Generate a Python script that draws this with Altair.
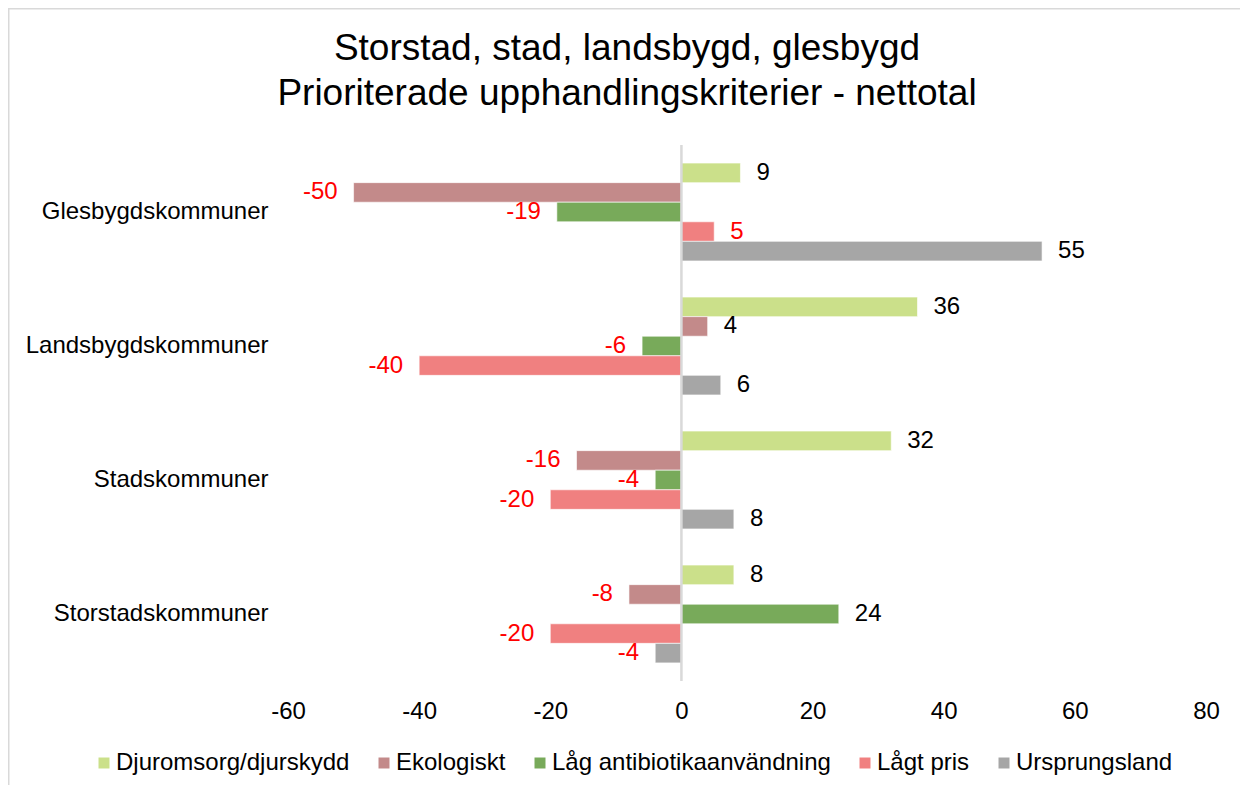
import altair as alt
import pandas as pd

categories = ["Glesbygdskommuner", "Landsbygdskommuner", "Stadskommuner", "Storstadskommuner"]
series = ["Djuromsorg/djurskydd", "Ekologiskt", "Låg antibiotikaanvändning", "Lågt pris", "Ursprungsland"]
djuromsorg = [9, 36, 32, 8]
ekologiskt = [-50, 4, -16, -8]
antibiotika = [-19, -6, -4, 24]
lagt_pris = [5, -40, -20, -20]
ursprungsland = [55, 6, 8, -4]
colors = ["#CBE08A", "#C38A8A", "#78AA5A", "#F08080", "#A6A6A6"]
x_ticks = [-60, -40, -20, 0, 20, 40, 60, 80]
title_line1 = "Storstad, stad, landsbygd, glesbygd"
title_line2 = "Prioriterade upphandlingskriterier - nettotal"

values_by_series = [djuromsorg, ekologiskt, antibiotika, lagt_pris, ursprungsland]
rows = []
for s, vals in zip(series, values_by_series):
    for c, v in zip(categories, vals):
        rows.append({"kategori": c, "serie": s, "varde": v})
df = pd.DataFrame(rows)

FONT = "Liberation Sans"
FS = 24
W, H = 918, 536

y_enc = alt.Y("kategori:N", sort=categories,
              scale=alt.Scale(paddingInner=0.27, paddingOuter=0.135),
              axis=alt.Axis(title=None, ticks=False, domain=False, labelFontSize=FS, labelLimit=0,
                            labelFont=FONT, labelColor="black", labelPadding=20))
yoff_enc = alt.YOffset("serie:N", sort=series, scale=alt.Scale(paddingInner=0, paddingOuter=0))
x_enc = alt.X("varde:Q", scale=alt.Scale(domain=[-60, 80], nice=False, zero=False),
              axis=alt.Axis(values=x_ticks, title=None, grid=False, ticks=False, domain=False,
                            labelExpr="'' + datum.value", labelFlush=False, labelOverlap=False,
                            labelFontSize=FS, labelFont=FONT, labelColor="black", labelPadding=18))

base = alt.Chart(df).transform_calculate(lbl="'' + datum.varde")

bars = base.mark_bar(stroke="white", strokeWidth=0.6).encode(
    y=y_enc,
    yOffset=yoff_enc,
    x=x_enc,
    color=alt.Color("serie:N", sort=series,
                    scale=alt.Scale(domain=series, range=colors),
                    legend=alt.Legend(title=None, orient="none", direction="horizontal", columns=5,
                                      legendX=-196, legendY=606, padding=0,
                                      symbolType="square", symbolSize=121, symbolStrokeWidth=0,
                                      labelFontSize=FS, labelFont=FONT, labelColor="black",
                                      labelOffset=0, columnPadding=22, labelLimit=0)),
)

label_color = alt.condition("datum.varde < 0 || datum.serie == 'Lågt pris'",
                            alt.value("#FF0000"), alt.value("black"))

pos_labels = base.transform_filter("datum.varde >= 0").mark_text(
    align="left", baseline="middle", dx=16, fontSize=FS, font=FONT
).encode(y=alt.Y("kategori:N", sort=categories), yOffset=alt.YOffset("serie:N", sort=series),
         x="varde:Q", text="lbl:N", color=label_color)

neg_labels = base.transform_filter("datum.varde < 0").mark_text(
    align="right", baseline="middle", dx=-16, fontSize=FS, font=FONT
).encode(y=alt.Y("kategori:N", sort=categories), yOffset=alt.YOffset("serie:N", sort=series),
         x="varde:Q", text="lbl:N", color=label_color)

zero_rule = alt.Chart(pd.DataFrame({"x": [0]})).mark_rule(color="#D9D9D9", strokeWidth=2.5).encode(
    x="x:Q", y=alt.value(0), y2=alt.value(H))

border = alt.Chart(pd.DataFrame({"b": [0]})).mark_rect(
    fill="transparent", stroke="#D9D9D9", strokeWidth=1.5).encode(
    x=alt.value(-279.25), x2=alt.value(W + 200), y=alt.value(-136.25), y2=alt.value(H + 300))

title1 = alt.Chart(pd.DataFrame({"t": [title_line1]})).mark_text(
    fontSize=37, font=FONT, color="black", align="center", baseline="alphabetic").encode(
    text="t:N", x=alt.value(339), y=alt.value(-85))
title2 = alt.Chart(pd.DataFrame({"t": [title_line2]})).mark_text(
    fontSize=37, font=FONT, color="black", align="center", baseline="alphabetic").encode(
    text="t:N", x=alt.value(339), y=alt.value(-40))

chart = alt.layer(border, bars, zero_rule, pos_labels, neg_labels, title1, title2).properties(
    width=W, height=H,
    autosize=alt.AutoSizeParams(type="none"),
    padding={"left": 280, "top": 137, "right": 34, "bottom": 104},
).configure_view(stroke=None)

chart.save("out.html", embed_options={"renderer": "svg", "actions": False})
